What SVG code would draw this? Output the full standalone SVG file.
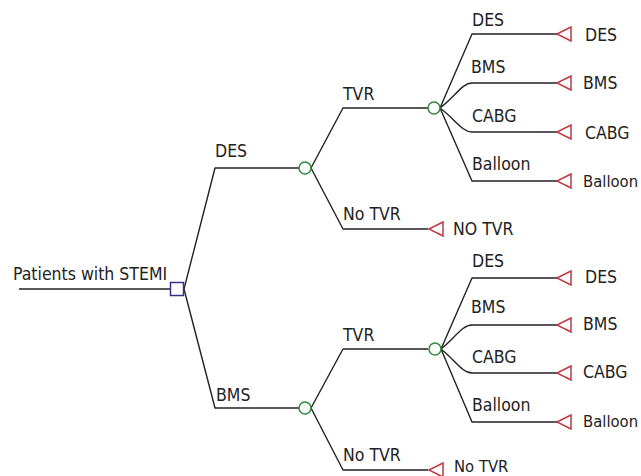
<svg xmlns="http://www.w3.org/2000/svg" width="641" height="476" viewBox="0 0 641 476">
<style>
text{font-family:"DejaVu Sans Condensed","DejaVu Sans",sans-serif;font-stretch:condensed;font-size:17.5px;fill:#222}
.ln{fill:none;stroke:#222;stroke-width:1.4;stroke-linejoin:round}
.dec{fill:#fff;stroke:#33338a;stroke-width:1.5}
.chc{fill:#fff;stroke:#2e8b3a;stroke-width:1.5}
.trm{fill:#fff;stroke:#c0393f;stroke-width:1.5}
.sm{font-size:16.5px}
</style>
<rect width="641" height="476" fill="#fff"/>
<g id="connectors">
<path class="ln" d="M19,289 H170"/>
<path class="ln" d="M184,289 L215,168 H299"/>
<path class="ln" d="M184,289 L215,408 H299"/>
<path class="ln" d="M311,168 L343,108 H428"/>
<path class="ln" d="M311,168 L343,229 H428"/>
<path class="ln" d="M311,408 L343,349 H428"/>
<path class="ln" d="M311,408 L343,470 H428"/>
<path class="ln" d="M440,108 L472,34 H557"/>
<path class="ln" d="M440,108 C455,97 462,83 472,83 H557"/>
<path class="ln" d="M440,108 C455,119 462,132 472,132 H557"/>
<path class="ln" d="M440,108 L472,181 H557"/>
<path class="ln" d="M441,349 L472,278 H557"/>
<path class="ln" d="M441,349 C455,338 462,325 472,325 H557"/>
<path class="ln" d="M441,349 C455,360 462,373 472,373 H557"/>
<path class="ln" d="M441,349 L472,422 H557"/>
<text x="215" y="157">DES</text>
<text x="216" y="401">BMS</text>
<text x="343" y="100">TVR</text>
<text x="343" y="220">No TVR</text>
<text x="343" y="341">TVR</text>
<text x="343" y="461">No TVR</text>
<text x="472" y="26">DES</text>
<text x="471" y="73">BMS</text>
<text x="472" y="122">CABG</text>
<text x="472" y="170">Balloon</text>
<text x="472" y="267">DES</text>
<text x="471" y="313">BMS</text>
<text x="472" y="363">CABG</text>
<text x="472" y="411">Balloon</text>
</g>
<g id="root">
<text x="13" y="280">Patients with STEMI</text>
<rect class="dec" x="170.5" y="282.5" width="13" height="13"/>
</g>
<g id="chance-des"><circle class="chc" cx="305" cy="168" r="6"/></g>
<g id="chance-bms"><circle class="chc" cx="305" cy="408" r="6"/></g>
<g id="chance-des-tvr"><circle class="chc" cx="434" cy="108" r="6"/></g>
<g id="chance-bms-tvr"><circle class="chc" cx="435" cy="349" r="6"/></g>
<g id="t-des-notvr"><polygon class="trm" points="429,229 443,222 443,236"/><text x="453" y="235">NO TVR</text></g>
<g id="t-bms-notvr"><polygon class="trm" points="429,470 443,463 443,477"/><text class="sm" x="454" y="472">No TVR</text></g>
<g id="t1"><polygon class="trm" points="557,34 571,27 571,41"/><text x="585" y="41">DES</text></g>
<g id="t2"><polygon class="trm" points="557,83 571,76 571,90"/><text x="583" y="89">BMS</text></g>
<g id="t3"><polygon class="trm" points="557,132 571,125 571,139"/><text x="585" y="139">CABG</text></g>
<g id="t4"><polygon class="trm" points="557,181 571,174 571,188"/><text class="sm" x="583" y="187">Balloon</text></g>
<g id="t5"><polygon class="trm" points="557,278 571,271 571,285"/><text x="585" y="283">DES</text></g>
<g id="t6"><polygon class="trm" points="557,325 571,318 571,332"/><text x="583" y="330">BMS</text></g>
<g id="t7"><polygon class="trm" points="557,373 571,366 571,380"/><text x="583" y="378">CABG</text></g>
<g id="t8"><polygon class="trm" points="557,422 571,415 571,429"/><text class="sm" x="583" y="427">Balloon</text></g>
</svg>
